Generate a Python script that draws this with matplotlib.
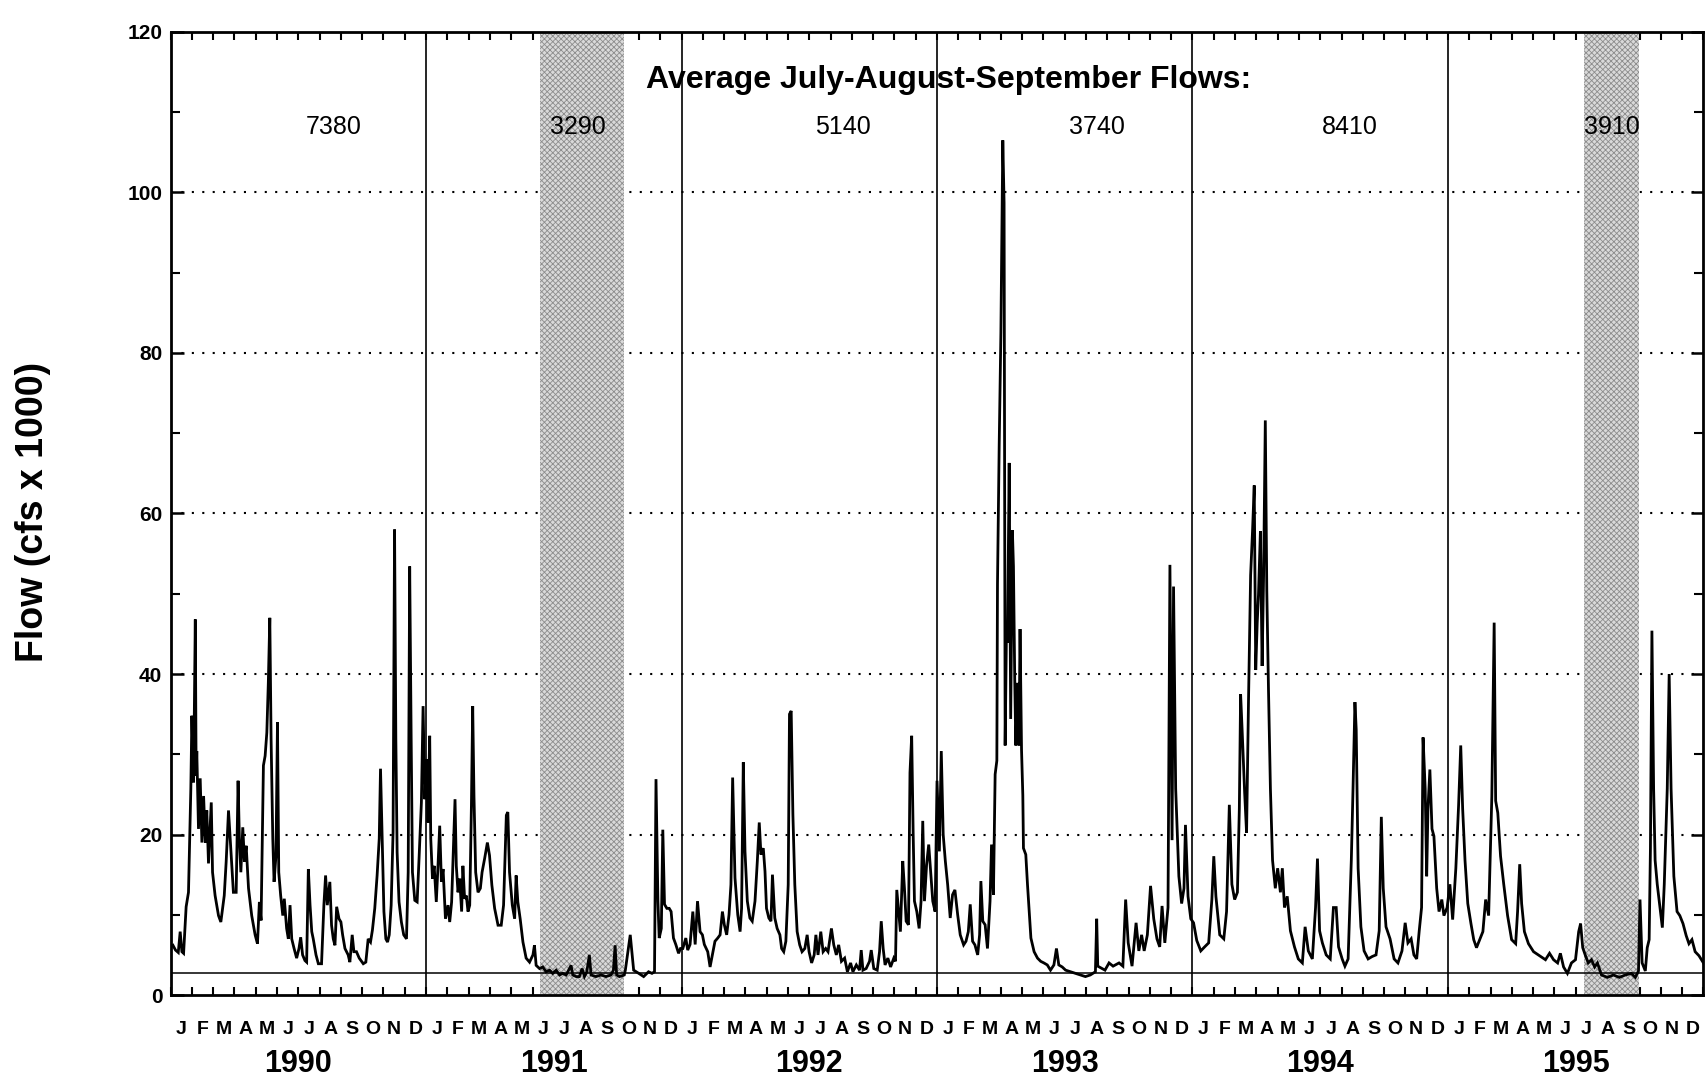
import matplotlib
matplotlib.use("Agg")
import matplotlib.pyplot as plt
import matplotlib.transforms as mtransforms
from matplotlib.ticker import MultipleLocator
import numpy as np

plt.rcParams['font.family'] = ['Liberation Sans', 'DejaVu Sans']
plt.rcParams['hatch.linewidth'] = 0.6

# ---------------- data (x = months since 1 Jan 1990, y = flow in cfs x 1000) ----------
months_a = [0.0, 0.11, 0.23, 0.36, 0.45, 0.53, 0.61, 0.73, 0.84, 0.95, 1.0, 1.08, 1.16, 1.2,
            1.23, 1.31, 1.39, 1.47, 1.55, 1.63, 1.7, 1.78, 1.91, 1.97, 2.09, 2.25, 2.36, 2.52,
            2.61, 2.72, 2.83, 2.95, 3.08, 3.17, 3.23, 3.3, 3.39, 3.47, 3.55, 3.66, 3.81, 3.97,
            4.08, 4.17, 4.25, 4.36, 4.44, 4.52, 4.59, 4.66, 4.72, 4.8, 4.86, 4.95, 5.02, 5.08,
            5.17, 5.27, 5.34, 5.45, 5.53, 5.61, 5.69, 5.8, 5.92, 6.03, 6.11, 6.2, 6.31, 6.39,
            6.47, 6.55, 6.63, 6.7, 6.83, 6.94, 7.09, 7.2, 7.28, 7.36, 7.48, 7.56, 7.64, 7.72,
            7.8, 7.91, 8.0, 8.08, 8.19, 8.34, 8.42, 8.53, 8.61, 8.73, 8.86, 9.05, 9.17, 9.28,
            9.39, 9.48, 9.59, 9.7, 9.8, 9.86, 9.94, 10.02, 10.11, 10.19, 10.27, 10.36, 10.45,
            10.52, 10.58, 10.64, 10.73, 10.84, 10.95, 11.08, 11.16, 11.23, 11.3, 11.36, 11.47,
            11.58, 11.67, 11.78, 11.86, 11.94, 12.02, 12.09, 12.17, 12.22, 12.3, 12.38, 12.48,
            12.56, 12.64, 12.72, 12.8, 12.91, 13.03, 13.11, 13.2, 13.3, 13.36, 13.42, 13.5,
            13.58, 13.67, 13.73, 13.81, 13.89, 13.97, 14.05, 14.13, 14.19, 14.25, 14.33, 14.44,
            14.55, 14.63, 14.75, 14.88, 14.98, 15.09, 15.22, 15.38, 15.53, 15.64, 15.77, 15.84,
            15.92, 16.05, 16.16, 16.23, 16.31, 16.42, 16.55, 16.7, 16.86, 17.02, 17.09, 17.17,
            17.33, 17.48, 17.64, 17.8, 17.95, 18.11, 18.27, 18.42, 18.58, 18.81, 18.89, 19.05,
            19.2, 19.33, 19.44, 19.55, 19.67, 19.75, 19.98, 20.22, 20.45, 20.69, 20.8, 20.88,
            20.95, 21.08, 21.31]
flow_a = [6.0, 6.2, 5.6, 5.3, 7.9, 5.4, 5.2, 11.0, 12.8, 25.7, 34.8, 26.5, 46.8, 27.3,
          30.4, 20.7, 27.0, 19.0, 24.8, 19.0, 23.0, 16.4, 24.0, 15.3, 12.4, 9.9, 9.1, 12.4,
          16.6, 23.0, 18.2, 12.8, 12.8, 26.7, 19.5, 15.3, 20.9, 16.6, 18.6, 13.3, 9.9, 7.5,
          6.4, 11.6, 9.3, 28.6, 29.8, 32.7, 38.9, 47.0, 31.9, 19.5, 14.1, 17.4, 34.0, 15.3,
          12.4, 9.9, 12.0, 8.3, 7.0, 11.2, 7.0, 5.8, 4.6, 5.8, 7.2, 5.0, 4.3, 4.1,
          15.7, 11.2, 7.9, 7.0, 5.0, 3.9, 3.9, 11.2, 14.9, 11.2, 14.1, 8.7, 7.0, 6.2,
          11.0, 9.5, 9.1, 7.5, 5.8, 5.0, 4.1, 7.5, 5.4, 5.4, 4.6, 3.9, 4.1, 7.0,
          6.6, 8.1, 10.8, 14.9, 19.5, 28.2, 19.5, 10.4, 7.0, 6.6, 7.5, 11.2, 20.3,
          58.0, 31.9, 17.8, 11.6, 9.1, 7.5, 7.0, 15.3, 53.4, 31.9, 15.3, 11.8,
          11.6, 17.0, 24.0, 36.0, 24.4, 29.4, 21.5, 32.3, 19.5, 14.5, 16.1, 11.6,
          16.1, 21.1, 14.1, 15.7, 9.5, 11.2, 9.1, 11.6, 19.5, 24.4, 16.1, 12.8,
          14.5, 10.4, 16.1, 12.0, 12.4, 10.4, 11.2, 23.6, 36.0, 24.8, 15.3, 12.8,
          13.3, 15.3, 17.0, 19.0, 17.4, 13.7, 10.8, 8.7, 8.7, 11.2, 22.4, 22.8,
          15.3, 11.2, 9.5, 14.9, 11.6, 9.5, 6.6, 4.6, 4.1, 5.0, 6.2, 3.7,
          3.3, 3.5, 2.9, 3.1, 2.7, 3.1, 2.5, 2.7, 2.5, 3.7, 2.5, 2.3,
          2.3, 3.3, 2.3, 2.9, 5.0, 2.5, 2.3, 2.5, 2.3, 2.5, 3.1, 6.2,
          2.5, 2.3, 2.5]

months_b = [21.36, 21.59, 21.75, 21.99, 22.22, 22.45, 22.61, 22.73, 22.8, 22.89, 22.95, 23.05,
            23.12, 23.2, 23.31, 23.42, 23.51, 23.62, 23.73, 23.86, 23.95, 24.06, 24.2, 24.29,
            24.4, 24.53, 24.64, 24.75, 24.87, 24.98, 25.07, 25.23, 25.34, 25.45, 25.57, 25.7,
            25.81, 25.92, 26.01, 26.12, 26.23, 26.32, 26.4, 26.51, 26.64, 26.75, 26.82, 26.9,
            26.98, 27.09, 27.21, 27.32, 27.45, 27.56, 27.65, 27.73, 27.84, 27.92, 27.99, 28.1,
            28.2, 28.27, 28.38, 28.49, 28.62, 28.7, 28.8, 28.9, 29.01, 29.07, 29.15, 29.23,
            29.32, 29.43, 29.55, 29.66, 29.79, 29.9, 29.99, 30.11, 30.23, 30.31, 30.41, 30.54,
            30.65, 30.77, 30.88, 31.04, 31.15, 31.27, 31.38, 31.51, 31.66, 31.79, 31.94, 32.05,
            32.21, 32.36, 32.44, 32.52, 32.67, 32.83, 32.91, 33.03, 33.19, 33.3, 33.38, 33.47,
            33.56, 33.69, 33.82, 33.97, 34.05, 34.11, 34.2, 34.28, 34.39, 34.47, 34.55, 34.66,
            34.73, 34.81, 34.88, 34.94, 35.05, 35.16, 35.25, 35.33, 35.41, 35.51, 35.61, 35.69,
            35.8, 35.91, 36.0, 36.11, 36.2, 36.29, 36.39, 36.5, 36.62, 36.73, 36.84, 36.97,
            37.09, 37.25, 37.36, 37.47, 37.56, 37.67, 37.78, 37.91, 38.0, 38.06, 38.15, 38.26,
            38.37, 38.49, 38.56, 38.65, 38.73, 38.81, 38.84, 38.92, 39.0, 39.09, 39.15, 39.2,
            39.26, 39.31, 39.39, 39.46, 39.54, 39.59, 39.65, 39.7, 39.78, 39.85, 39.9, 39.97,
            40.03, 40.06, 40.17, 40.25, 40.33, 40.41, 40.56, 40.72, 40.87, 41.02, 41.18, 41.33,
            41.49, 41.61, 41.72, 41.88, 42.04, 42.27, 42.51, 42.74, 42.97, 43.2, 43.44, 43.5]
flow_b = [3.1, 7.5, 3.1, 2.7, 2.3, 2.9, 2.7, 2.9, 26.9, 11.7, 7.1, 8.3,
          20.6, 11.3, 10.8, 10.8, 10.4, 7.1, 6.3, 5.2, 5.8, 5.8, 7.1, 5.6,
          6.3, 10.4, 6.3, 11.7, 7.9, 7.5, 6.3, 5.4, 3.5, 5.0, 6.7, 7.1,
          7.5, 10.4, 8.75, 7.5, 10.0, 13.75, 27.1, 14.6, 10.0, 7.9, 10.8, 29.0,
          17.9, 11.7, 9.6, 9.2, 11.7, 16.7, 21.5, 17.5, 18.3, 15.4, 10.8, 9.6,
          9.2, 15.0, 9.6, 8.3, 7.5, 5.8, 5.4, 6.7, 13.75, 35.0, 35.4, 22.5,
          13.75, 7.9, 6.25, 5.4, 5.8, 7.5, 5.4, 4.0, 5.0, 7.5, 5.0, 7.9,
          5.4, 5.8, 5.4, 8.3, 6.25, 5.0, 6.25, 4.2, 4.6, 2.9, 4.0, 2.9,
          3.75, 3.1, 5.6, 3.1, 3.3, 4.2, 5.6, 3.3, 3.1, 5.4, 9.2, 5.8,
          3.75, 4.6, 3.5, 4.6, 4.2, 13.1, 10.4, 7.9, 16.7, 13.3, 9.2, 8.75,
          27.7, 32.3, 20.0, 11.7, 10.4, 8.3, 11.7, 21.7, 11.7, 16.25, 18.75, 15.8,
          11.7, 10.4, 26.7, 17.9, 30.4, 20.0, 16.7, 13.75, 9.6, 12.5, 13.1, 10.0,
          7.5, 6.25, 6.7, 7.9, 11.3, 6.7, 6.25, 5.0, 7.5, 14.2, 9.2, 8.75,
          5.8, 11.7, 18.75, 12.5, 27.5, 29.2, 51.2, 68.5, 82.5, 106.5, 98.7, 31.1,
          45.0, 43.9, 66.3, 34.4, 57.9, 53.4, 39.4, 31.1, 38.9, 31.1, 45.6, 30.5,
          24.9, 18.3, 17.5, 13.75, 10.4, 7.1, 5.4, 4.6, 4.2, 4.0, 3.75, 3.1,
          3.75, 5.8, 3.75, 3.5, 3.1, 2.9, 2.7, 2.5, 2.3, 2.5, 2.9, 9.5]

months_c = [43.55, 43.89, 44.08, 44.27, 44.55, 44.73, 44.86, 44.98, 45.16, 45.35, 45.48, 45.61,
            45.73, 45.88, 46.03, 46.18, 46.33, 46.46, 46.57, 46.7, 46.85, 46.94, 47.04, 47.11,
            47.21, 47.36, 47.49, 47.6, 47.67, 47.79, 47.92, 48.05, 48.2, 48.39, 48.57, 48.76,
            48.91, 49.0, 49.1, 49.28, 49.47, 49.6, 49.73, 49.85, 49.98, 50.11, 50.2, 50.26,
            50.33, 50.45, 50.54, 50.63, 50.73, 50.82, 50.9, 50.97, 51.04, 51.1, 51.19, 51.27,
            51.34, 51.42, 51.49, 51.57, 51.66, 51.76, 51.89, 52.0, 52.13, 52.22, 52.32, 52.45,
            52.6, 52.79, 52.97, 53.16, 53.29, 53.44, 53.63, 53.78, 53.87, 53.97, 54.1, 54.28,
            54.47, 54.62, 54.75, 54.86, 55.03, 55.16, 55.31, 55.46, 55.54, 55.63, 55.69, 55.78,
            55.91, 56.06, 56.25, 56.44, 56.62, 56.77, 56.87, 56.96, 57.09, 57.28, 57.47, 57.65,
            57.84, 57.99, 58.12, 58.27, 58.4, 58.53, 58.65, 58.76, 58.83, 58.93, 59.0, 59.06,
            59.15, 59.25, 59.34, 59.47, 59.58, 59.71, 59.81, 59.96, 60.09, 60.22, 60.37, 60.5,
            60.6, 60.69, 60.8, 60.93, 61.08, 61.21, 61.34, 61.49, 61.64, 61.77, 61.91, 62.06,
            62.17, 62.24, 62.34, 62.47, 62.62, 62.8, 62.99, 63.18, 63.27, 63.37, 63.46, 63.59,
            63.78, 64.02, 64.3, 64.58, 64.77, 64.96, 65.15, 65.28, 65.43, 65.61, 65.8, 65.99,
            66.14, 66.23, 66.33, 66.46, 66.59, 66.74, 66.89, 67.02, 67.21, 67.49, 67.77, 68.05,
            68.33, 68.61, 68.8, 68.95, 69.02, 69.12, 69.27, 69.36, 69.45, 69.51, 69.58, 69.66,
            69.73, 69.83, 69.96, 70.07, 70.16, 70.3, 70.39, 70.48, 70.61, 70.76, 70.89, 71.04,
            71.19, 71.32, 71.46, 71.61, 71.79, 72.0]
flow_c = [3.6, 3.1, 4.0, 3.6, 4.0, 3.6, 11.9, 6.5, 3.6, 9.0, 5.5, 7.5,
          5.5, 7.5, 13.6, 9.5, 7.0, 6.0, 11.1, 6.5, 10.9, 53.6, 19.3, 50.9,
          25.7, 14.8, 11.4, 13.3, 21.2, 12.3, 9.5, 9.0, 6.8, 5.5, 6.0, 6.5,
          11.9, 17.3, 12.3, 7.5, 7.0, 10.4, 23.7, 13.8, 11.9, 12.8, 23.2, 37.5,
          33.1, 25.2, 20.2, 36.5, 52.3, 57.8, 63.5, 40.5, 46.4, 49.9, 57.8, 41.0,
          52.3, 71.6, 50.4, 38.0, 25.7, 16.8, 13.3, 15.8, 12.8, 15.8, 10.9, 12.3,
          8.0, 6.0, 4.5, 4.0, 8.5, 5.5, 4.5, 10.9, 17.0, 8.0, 6.5, 5.0,
          4.5, 10.9, 10.9, 6.0, 4.5, 3.6, 4.5, 16.8, 25.7, 36.5, 33.1, 15.8,
          8.5, 5.5, 4.5, 4.8, 5.0, 8.0, 22.2, 13.3, 8.5, 7.0, 4.5, 4.0,
          5.5, 9.0, 6.5, 7.0, 5.0, 4.5, 8.0, 10.9, 32.1, 25.7, 14.8, 23.2,
          28.1, 20.7, 19.8, 13.3, 10.4, 11.9, 9.9, 10.9, 13.8, 9.4, 15.8, 23.7,
          31.1, 23.2, 16.8, 11.4, 8.9, 6.9, 5.9, 6.9, 7.9, 11.9, 9.9, 24.7,
          46.4, 24.2, 22.7, 17.3, 13.8, 9.9, 6.9, 6.4, 10.4, 16.3, 11.4, 7.9,
          6.4, 5.4, 4.9, 4.4, 5.2, 4.4, 4.0, 5.2, 3.5, 2.7, 4.0, 4.4,
          7.9, 8.9, 5.9, 4.9, 4.0, 4.4, 3.5, 4.0, 2.5, 2.2, 2.5, 2.2,
          2.5, 2.7, 2.2, 3.0, 11.9, 4.0, 3.0, 5.9, 6.9, 18.3, 45.4, 25.7,
          16.8, 13.8, 10.9, 8.4, 13.8, 25.7, 40.0, 25.7, 14.8, 10.4, 9.9, 8.9,
          7.4, 6.4, 6.9, 5.4, 4.9, 4.0]

baseline_flow = 2.8
year_boundaries = [12, 24, 36, 48, 60]
shaded_periods = [(17.35, 21.30), (66.38, 68.98)]
years = ['1990', '1991', '1992', '1993', '1994', '1995']
month_letters = ['J', 'F', 'M', 'A', 'M', 'J', 'J', 'A', 'S', 'O', 'N', 'D']
y_ticks = [0, 20, 40, 60, 80, 100, 120]
grid_levels = [20, 40, 60, 80, 100]
avg_labels = ['7380', '3290', '5140', '3740', '8410', '3910']
avg_label_x = [7.67, 19.14, 31.56, 43.51, 55.38, 67.70]
avg_label_y = 108.2
title_text = 'Average July-August-September Flows:'

months = months_a + months_b + months_c
flows = flow_a + flow_b + flow_c

# ---------------- figure ----------------
fig = plt.figure(figsize=(17.06, 10.87), dpi=100)
ax = fig.add_axes([0.100, 0.0846, 0.8985, 0.886])
ax.set_xlim(0, 72)
ax.set_ylim(0, 120)

for s in ax.spines.values():
    s.set_linewidth(2.0)
    s.set_color('black')

# grid (dotted)
for g in grid_levels:
    ax.axhline(g, color='black', lw=1.5, linestyle=(0, (1, 4)), zorder=1)

# shaded summer periods
for s0, s1 in shaded_periods:
    ax.axvspan(s0, s1, facecolor='#d9d9d9', edgecolor='#8c8c8c', hatch='xxxxxx',
               lw=0, zorder=2)

# year separators
for yb in year_boundaries:
    ax.axvline(yb, color='black', lw=1.2, zorder=3)

# baseline
ax.axhline(baseline_flow, color='black', lw=1.1, zorder=3)

# flow line
ax.plot(months, flows, color='black', lw=2.0, zorder=4, solid_joinstyle='miter')

# y ticks
ax.set_yticks(y_ticks)
ax.set_yticklabels([str(v) for v in y_ticks], fontsize=15, fontweight='bold')
ax.yaxis.set_minor_locator(MultipleLocator(10))
ax.tick_params(axis='y', which='major', direction='in', length=9, width=1.8,
               right=True, left=True, pad=6)
ax.tick_params(axis='y', which='minor', direction='in', length=6.5, width=1.5,
               right=True, left=True)

# x ticks at month boundaries (no labels)
ax.set_xticks(np.arange(0, 73))
ax.set_xticklabels([])
ax.tick_params(axis='x', which='major', direction='in', length=6, width=1.5,
               top=True, bottom=True)

trans = mtransforms.blended_transform_factory(ax.transData, ax.transAxes)
for i in range(72):
    ax.text(i + 0.5, -0.0353, month_letters[i % 12], transform=trans, ha='center',
            va='center', fontsize=14, fontweight='bold')
for k, yr in enumerate(years):
    ax.text(k * 12 + 6, -0.0717, yr, transform=trans, ha='center', va='center',
            fontsize=22, fontweight='bold')

# annotations
ax.text(36.56, 114.0, title_text, ha='center', va='center', fontsize=23,
        fontweight='bold', zorder=6)
for lab, lx in zip(avg_labels, avg_label_x):
    ax.text(lx, avg_label_y, lab, ha='center', va='center', fontsize=18, zorder=6)

fig.text(0.0193, 0.529, 'Flow (cfs x 1000)', rotation=90, ha='center', va='center',
         fontsize=27, fontweight='bold')

fig.savefig('out.png', dpi=100)
